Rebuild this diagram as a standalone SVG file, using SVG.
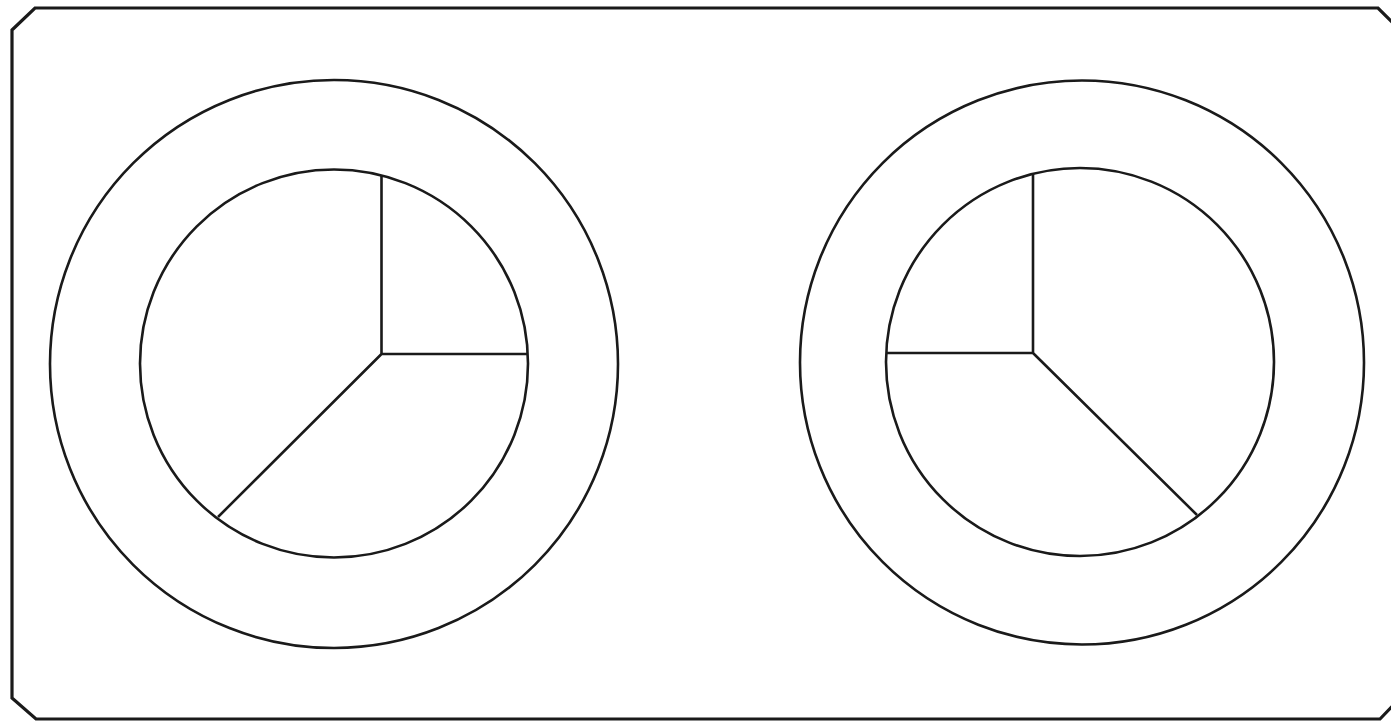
<svg xmlns="http://www.w3.org/2000/svg" width="1391" height="721" viewBox="0 0 1391 721">
<style>
.s{fill:none;stroke:#1a1a1a;stroke-width:2.6;stroke-linejoin:miter}
.b{fill:none;stroke:#1a1a1a;stroke-width:3.2}
</style>
<rect width="1391" height="721" fill="#ffffff"/>
<path class="b" d="M12,30 L35,8 L1378,8 L1402,32 L1402,696 L1380,719 L36,719 L12,698 Z"/>
<g id="dial-left">
<circle class="s" cx="334" cy="364" r="284"/>
<circle class="s" cx="334" cy="363.5" r="194"/>
<path class="s" d="M381.5,176 L381.5,354 L528,354 M381.5,354 L218,517"/>
</g>
<g id="dial-right">
<circle class="s" cx="1082" cy="362.5" r="282"/>
<circle class="s" cx="1080" cy="362" r="194"/>
<path class="s" d="M1033,174 L1033,353 L887,353 M1033,353 L1197,515"/>
</g>
</svg>
